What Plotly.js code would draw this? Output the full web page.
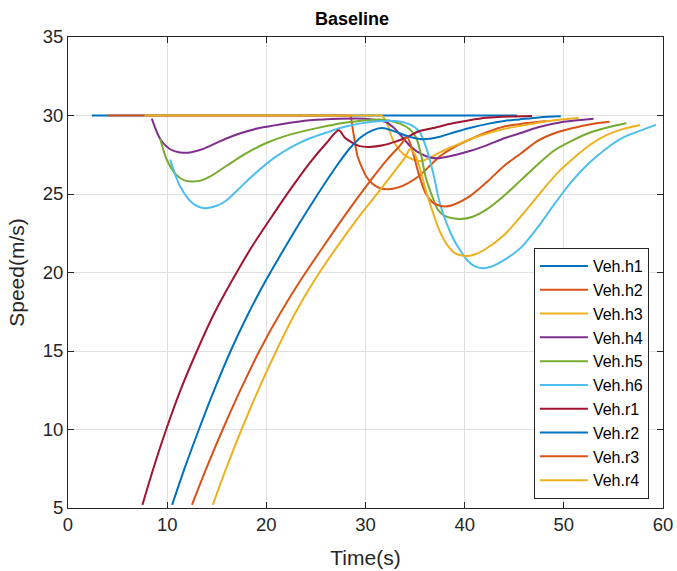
<!DOCTYPE html>
<html>
<head>
<meta charset="utf-8">
<script src="https://cdn.plot.ly/plotly-3.0.1.min.js"></script>
<style>html,body{margin:0;padding:0;background:#fff;}#chart{width:677px;height:571px;}</style>
</head>
<body>
<div id="chart"></div>
<script>
// Series names and colours
var seriesNames = ["Veh.h1","Veh.h2","Veh.h3","Veh.h4","Veh.h5","Veh.h6","Veh.r1","Veh.r2","Veh.r3","Veh.r4"];
var seriesColors = ["#0072BD","#D95319","#EDB120","#7E2F8E","#77AC30","#4DBEEE","#A2142F","#0072BD","#D95319","#EDB120"];

// Veh.h1
var h1_t = [2.4, 45.3];
var h1_v = [30, 30];
// Veh.h2
var h2_t = [4.0, 16.0, 27.6, 28.1, 28.45, 28.7, 29.2, 29.7, 30.1, 30.7, 31.4, 32.3, 33.3, 34.3, 35.4, 36.5, 37.5, 39.0, 40.6, 42.3, 44.0, 46.0, 48.3];
var h2_v = [30, 30, 30, 30, 30, 29.2, 27.4, 26.6, 26.1, 25.65, 25.38, 25.3, 25.42, 25.7, 26.15, 26.8, 27.4, 28.0, 28.5, 28.95, 29.3, 29.5, 29.65];
// Veh.h3
var h3_t = [7.7, 20.0, 30.8, 31.3, 31.6, 32.1, 32.8, 33.8, 34.8, 35.6, 36.5, 37.5, 38.9, 40.6, 42.3, 44.0, 45.7, 48.0, 51.5];
var h3_v = [30, 30, 30, 30, 30, 29.6, 28.4, 27.55, 27.2, 27.1, 27.3, 27.65, 28.05, 28.5, 28.85, 29.15, 29.35, 29.6, 29.85];
// Veh.h4
var h4_t = [8.45, 9.3, 10.3, 11.3, 12.3, 13.3, 14.3, 15.3, 17.3, 19.3, 21.5, 24.4, 27.4, 30.0, 32.0, 32.8, 33.6, 34.6, 35.6, 36.5, 37.4, 38.5, 40.6, 42.2, 44.0, 45.5, 47.4, 50.0, 53.0];
var h4_v = [29.8, 28.5, 27.85, 27.65, 27.65, 27.8, 28.05, 28.35, 28.85, 29.2, 29.45, 29.7, 29.8, 29.8, 29.6, 29.25, 28.7, 28.0, 27.55, 27.33, 27.28, 27.4, 27.75, 28.1, 28.55, 28.85, 29.25, 29.6, 29.8];
// Veh.h5
var h5_t = [9.3, 9.95, 10.95, 11.8, 12.6, 13.4, 14.3, 16.0, 18.0, 20.0, 22.2, 24.4, 27.0, 29.4, 31.5, 33.4, 34.4, 35.1, 35.6, 36.1, 36.7, 37.3, 38.0, 38.8, 39.6, 40.8, 42.3, 44.0, 45.7, 47.4, 49.1, 51.0, 52.6, 54.5, 56.3];
var h5_v = [28.5, 27.2, 26.2, 25.85, 25.8, 25.85, 26.1, 26.8, 27.6, 28.25, 28.75, 29.1, 29.45, 29.65, 29.75, 29.5, 29.15, 28.6, 27.5, 26.0, 24.9, 24.0, 23.6, 23.45, 23.4, 23.55, 24.05, 24.9, 25.9, 26.9, 27.8, 28.45, 28.9, 29.25, 29.5];
// Veh.h6
var h6_t = [10.3, 11.3, 12.6, 13.8, 15.0, 16.0, 17.5, 19.3, 21.0, 22.7, 24.4, 26.0, 28.0, 30.7, 33.0, 34.4, 35.4, 36.1, 36.8, 37.5, 38.2, 38.9, 39.6, 40.3, 41.0, 41.8, 42.8, 44.0, 45.7, 47.4, 49.1, 50.8, 52.6, 54.3, 56.0, 57.8, 59.3];
var h6_v = [27.2, 25.5, 24.4, 24.1, 24.25, 24.6, 25.5, 26.55, 27.4, 28.05, 28.55, 28.9, 29.3, 29.6, 29.65, 29.45, 29.0, 28.0, 26.4, 24.4, 23.1, 22.1, 21.35, 20.75, 20.4, 20.27, 20.4, 20.8, 21.6, 22.9, 24.4, 25.8, 27.0, 27.9, 28.6, 29.05, 29.4];
// Veh.r1
var r1_t = [7.5, 8.65, 9.9, 11.4, 13.0, 14.75, 16.6, 18.6, 20.7, 22.6, 24.4, 26.0, 27.3, 27.9, 28.7, 29.4, 30.4, 31.75, 33.1, 34.1, 35.4, 36.8, 38.8, 40.5, 42.2, 44.5, 46.8];
var r1_v = [5.2, 7.6, 10.0, 12.6, 15.0, 17.4, 19.55, 21.7, 23.7, 25.45, 27.0, 28.2, 29.06, 28.6, 28.25, 28.05, 28.0, 28.1, 28.35, 28.6, 29.0, 29.2, 29.5, 29.7, 29.85, 29.93, 29.97];
// Veh.r2
var r2_t = [10.5, 11.8, 13.2, 14.8, 16.4, 18.2, 20.0, 21.7, 23.4, 25.3, 27.1, 28.4, 29.6, 30.7, 31.6, 32.4, 33.3, 34.4, 35.5, 36.5, 37.5, 38.8, 40.5, 42.2, 44.0, 45.5, 47.5, 49.7];
var r2_v = [5.2, 7.6, 10.0, 12.6, 15.0, 17.4, 19.55, 21.4, 23.2, 25.1, 26.8, 27.9, 28.65, 29.05, 29.2, 29.1, 28.9, 28.65, 28.5, 28.52, 28.65, 28.9, 29.2, 29.45, 29.65, 29.75, 29.88, 29.95];
// Veh.r3
var r3_t = [12.5, 14.0, 15.6, 17.45, 19.3, 21.4, 23.5, 25.8, 28.1, 30.2, 32.2, 33.5, 34.2, 34.8, 35.4, 36.1, 36.8, 37.5, 38.0, 38.8, 40.6, 42.3, 44.0, 45.7, 47.4, 49.2, 50.9, 52.7, 54.6];
var r3_v = [5.2, 7.6, 10.0, 12.6, 15.0, 17.4, 19.55, 21.7, 23.8, 25.6, 27.2, 28.1, 28.6, 27.6, 26.2, 25.0, 24.45, 24.25, 24.2, 24.3, 24.9, 25.8, 26.8, 27.6, 28.4, 28.9, 29.2, 29.45, 29.6];
// Veh.r4
var r4_t = [14.6, 16.0, 17.5, 19.25, 21.0, 22.9, 24.9, 27.2, 29.4, 31.4, 33.0, 34.0, 34.5, 35.0, 35.5, 36.1, 36.6, 37.5, 38.3, 39.1, 40.1, 41.0, 42.0, 44.0, 45.7, 47.4, 49.3, 51.2, 52.8, 54.3, 56.0, 57.7];
var r4_v = [5.2, 7.6, 10.0, 12.6, 15.0, 17.4, 19.55, 21.7, 23.6, 25.2, 26.5, 27.35, 27.85, 27.5, 26.6, 25.2, 24.2, 22.6, 21.7, 21.2, 21.05, 21.15, 21.45, 22.4, 23.6, 24.9, 26.3, 27.4, 28.2, 28.75, 29.15, 29.4];

var xTickVals = [0, 10, 20, 30, 40, 50, 60];
var yTickVals = [5, 10, 15, 20, 25, 30, 35];

var allT = [h1_t, h2_t, h3_t, h4_t, h5_t, h6_t, r1_t, r2_t, r3_t, r4_t];
var allV = [h1_v, h2_v, h3_v, h4_v, h5_v, h6_v, r1_v, r2_v, r3_v, r4_v];

var traces = [];
for (var i = 0; i < seriesNames.length; i++) {
  traces.push({
    x: allT[i], y: allV[i], name: seriesNames[i], type: 'scatter', mode: 'lines',
    line: {color: seriesColors[i], width: 2, shape: 'spline', smoothing: 0.8}
  });
}

var fontFam = '"Liberation Sans", Arial, Helvetica, sans-serif';
var axisCommon = {
  showline: true, linecolor: '#262626', linewidth: 1, mirror: 'ticks',
  ticks: 'inside', ticklen: 6, tickcolor: '#262626', tickwidth: 1,
  showgrid: true, gridcolor: '#e0e0e0', gridwidth: 1, zeroline: false,
  tickfont: {family: fontFam, size: 18.5, color: '#262626'}
};

var layout = {
  width: 677, height: 571,
  margin: {l: 68, r: 14, t: 37, b: 63},
  paper_bgcolor: '#ffffff', plot_bgcolor: '#ffffff',
  title: {text: '<b>Baseline</b>', font: {family: fontFam, size: 18, color: '#000000'}, x: 0.52, xanchor: 'center', y: 0.968, yanchor: 'middle'},
  xaxis: Object.assign({}, axisCommon, {
    range: [0, 60], tickvals: xTickVals, ticktext: xTickVals.map(String),
    title: {text: 'Time(s)', font: {family: fontFam, size: 21, color: '#262626'}, standoff: 16}
  }),
  yaxis: Object.assign({}, axisCommon, {
    range: [5, 35], tickvals: yTickVals, ticktext: yTickVals.map(String),
    title: {text: 'Speed(m/s)', font: {family: fontFam, size: 21, color: '#262626'}, standoff: 12}
  }),
  showlegend: true,
  legend: {
    x: 0.783, y: 0.019, xanchor: 'left', yanchor: 'bottom',
    bgcolor: '#ffffff', bordercolor: '#262626', borderwidth: 1,
    font: {family: fontFam, size: 16, color: '#000000'},
    itemwidth: 48, tracegroupgap: 0
  }
};

Plotly.newPlot('chart', traces, layout, {displayModeBar: false, staticPlot: true});
</script>
</body>
</html>
